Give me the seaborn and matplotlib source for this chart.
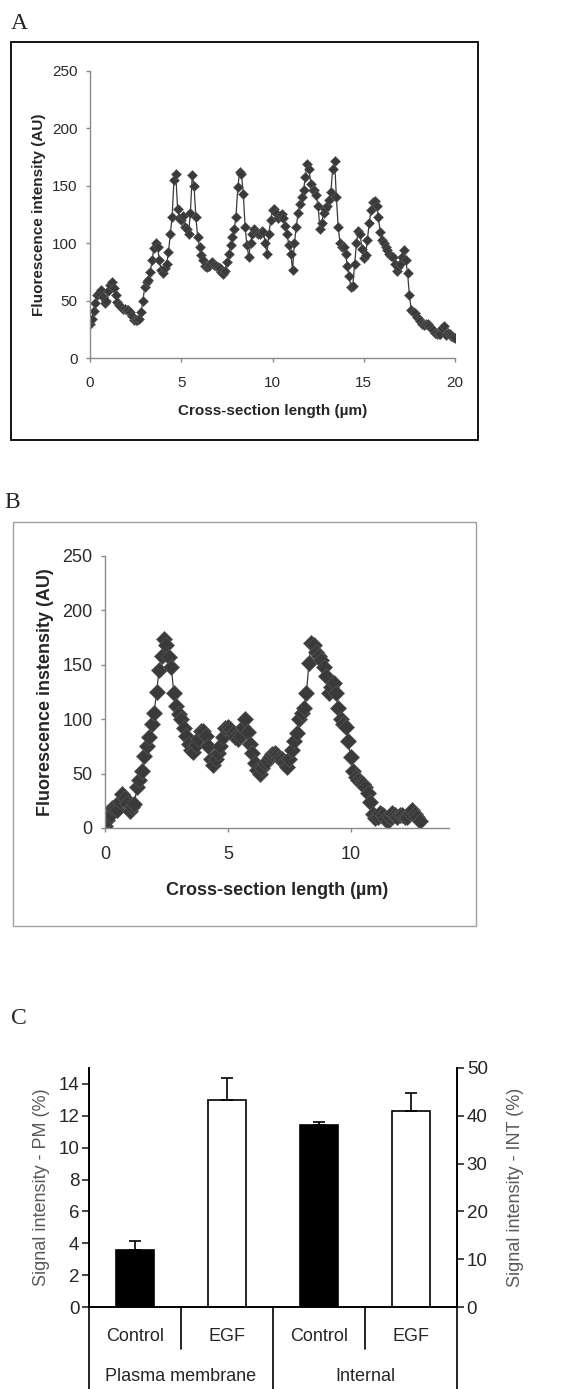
import numpy as np
import pandas as pd
import matplotlib
matplotlib.use("Agg")
import matplotlib.pyplot as plt
from matplotlib.patches import Rectangle
import seaborn as sns

# Panel A: fluorescence profile, one reading every 0.1 um from 0 to 20 um
a_step = 0.1
a_y = [30, 34, 41, 48, 55, 57, 59, 53, 48, 50,
       58, 64, 66, 61, 55, 49, 46, 44, 43, 43,
       42, 42, 40, 37, 33, 33, 33, 34, 40, 50,
       62, 66, 68, 75, 85, 96, 100, 97, 85, 77,
       74, 78, 82, 92, 108, 123, 155, 160, 130, 122,
       120, 124, 114, 112, 108, 126, 159, 150, 123, 105,
       97, 90, 85, 80, 79, 80, 82, 84, 81, 80,
       79, 78, 75, 73, 76, 84, 91, 98, 105, 112,
       123, 149, 162, 160, 143, 114, 98, 88, 100, 108,
       112, 110, 108, 108, 111, 110, 100, 91, 108, 120,
       129, 130, 126, 122, 124, 125, 122, 115, 108, 98,
       91, 77, 100, 114, 126, 134, 140, 146, 158, 169,
       165, 152, 146, 146, 142, 132, 112, 118, 126, 130,
       132, 138, 145, 165, 172, 140, 114, 100, 97, 97,
       91, 80, 71, 62, 63, 82, 100, 111, 108, 95,
       87, 90, 103, 118, 129, 136, 137, 132, 123, 110,
       103, 100, 97, 94, 91, 89, 88, 82, 76, 79,
       82, 88, 94, 85, 74, 55, 42, 40, 39, 36,
       34, 32, 30, 29, 30, 30, 28, 26, 24, 22,
       21, 21, 21, 26, 28, 20, 22, 21, 19, 18,
       17]
a_x = np.round(np.arange(len(a_y)) * a_step, 1)

# Panel B: fluorescence profile, one reading every 0.1 um from 0 to 12.8 um
b_step = 0.1
b_y = [2, 7, 12, 18, 18, 17, 25, 31, 28, 23,
       16, 19, 22, 38, 44, 52, 66, 75, 84, 96,
       106, 125, 145, 158, 174, 168, 157, 148, 124, 112,
       105, 100, 92, 85, 77, 72, 70, 76, 82, 89,
       89, 85, 75, 63, 58, 63, 69, 75, 84, 92,
       93, 91, 87, 84, 82, 85, 93, 100, 88, 77,
       69, 60, 53, 50, 55, 60, 62, 65, 68, 69,
       67, 64, 63, 61, 56, 63, 72, 80, 87, 100,
       106, 110, 124, 152, 170, 168, 162, 158, 154, 148,
       140, 124, 130, 133, 124, 110, 100, 96, 93, 80,
       65, 52, 47, 44, 41, 40, 38, 32, 24, 13,
       9, 10, 14, 12, 8, 6, 10, 14, 12, 10,
       12, 12, 10, 10, 14, 17, 13, 10, 6]
b_x = np.round(np.arange(len(b_y)) * b_step, 1)

# Panel C: signal intensity
groups = ["Plasma membrane", "Internal"]
conditions = ["Control", "EGF"]
pm_mean = [3.55, 13.0]
pm_err = [0.6, 1.35]
int_mean = [38.1, 41.1]
int_err = [0.5, 3.6]

sns.set_style("ticks")
plt.rcParams["font.family"] = ["Liberation Sans", "DejaVu Sans"]

W, H = 581, 1389
fig = plt.figure(figsize=(W / 100, H / 100), dpi=100)


def fbox(x0, y0, x1, y1):
    # pixel box (top-left origin) -> figure fraction rect
    return [x0 / W, 1 - y1 / H, (x1 - x0) / W, (y1 - y0) / H]


def letter(x, y, s):
    fig.text(x / W, 1 - y / H, s, family="Liberation Serif", fontsize=17,
             va="baseline", ha="left")


# frames around A and B
fig.patches.append(Rectangle((11 / W, 1 - 440 / H), 467 / W, 398 / H,
                             transform=fig.transFigure, fill=False,
                             edgecolor="black", linewidth=1.3))
fig.patches.append(Rectangle((13 / W, 1 - 926 / H), 463 / W, 404 / H,
                             transform=fig.transFigure, fill=False,
                             edgecolor="#a0a0a0", linewidth=1.0))

letter(11, 29, "A")
letter(4, 508, "B")
letter(11, 1024, "C")

gray = "#8a8a8a"

# ---- A ----
axa = fig.add_axes(fbox(90, 71, 455, 358))
sns.lineplot(x=a_x, y=a_y, ax=axa, estimator=None, color="#3a3a3a",
             linewidth=0.9, marker="D", markersize=5.4,
             markeredgecolor="#5a5a5a", markeredgewidth=0.4)
axa.set_xlim(0, 20)
axa.set_ylim(0, 250)
axa.set_xticks([0, 5, 10, 15, 20])
axa.set_yticks(range(0, 251, 50))
axa.set_xlabel("Cross-section length (µm)", fontsize=11, fontweight="bold",
               labelpad=10)
axa.set_ylabel("Fluorescence intensity (AU)", fontsize=11, fontweight="bold",
               labelpad=4)
sns.despine(ax=axa)

# ---- B ----
axb = fig.add_axes(fbox(105, 556, 449, 828))
sns.lineplot(x=b_x, y=b_y, ax=axb, estimator=None, color="#3a3a3a",
             linewidth=0.9, marker="D", markersize=7.8,
             markeredgecolor="#555555", markeredgewidth=0.5)
axb.set_xlim(0, 14)
axb.set_ylim(0, 250)
axb.set_xticks([0, 5, 10])
axb.set_yticks(range(0, 251, 50))
axb.set_xlabel("Cross-section length (µm)", fontsize=13, fontweight="bold",
               labelpad=14)
axb.set_ylabel("Fluorescence instensity (AU)", fontsize=13, fontweight="bold",
               labelpad=6)
sns.despine(ax=axb)

for ax, fs in ((axa, 11), (axb, 13)):
    for side in ("left", "bottom"):
        ax.spines[side].set_color(gray)
        ax.spines[side].set_linewidth(1.0)
    ax.tick_params(colors=gray, labelcolor="#2a2a2a", labelsize=fs,
                   length=3, width=1, direction="out")
    ax.tick_params(axis="x", pad=10)
    ax.tick_params(axis="y", pad=6)

# ---- C ----
order = [f"{g} {c}" for g in groups for c in conditions]
pal = {"Control": "black", "EGF": "white"}
df_pm = pd.DataFrame({"key": order[:2], "value": pm_mean, "cond": conditions})
df_int = pd.DataFrame({"key": order[2:], "value": int_mean, "cond": conditions})

axc = fig.add_axes(fbox(89, 1068, 457, 1307))
sns.barplot(data=df_pm, x="key", y="value", hue="cond", order=order,
            palette=pal, edgecolor="black", linewidth=1.2, width=0.41,
            dodge=False, legend=False, errorbar=None, ax=axc)
pm_pos = [order.index(k) for k in df_pm["key"]]
axc.errorbar(pm_pos, pm_mean, yerr=[np.zeros(2), pm_err], fmt="none",
             ecolor="black", elinewidth=1.2, capsize=4.5, capthick=1.2)

axr = axc.twinx()
sns.barplot(data=df_int, x="key", y="value", hue="cond", order=order,
            palette=pal, edgecolor="black", linewidth=1.2, width=0.41,
            dodge=False, legend=False, errorbar=None, ax=axr)
int_pos = [order.index(k) for k in df_int["key"]]
axr.errorbar(int_pos, int_mean, yerr=[np.zeros(2), int_err], fmt="none",
             ecolor="black", elinewidth=1.2, capsize=4.5, capthick=1.2)

axc.set_xlim(-0.5, len(order) - 0.5)
axc.set_ylim(0, 15)
axc.set_yticks(range(0, 15, 2))
axr.set_ylim(0, 50)
axr.set_yticks(range(0, 51, 10))
axc.set_xlabel("")
axr.set_xlabel("")
axc.set_ylabel("Signal intensity - PM (%)", fontsize=13, color="#5a5a5a",
               labelpad=6)
axr.set_ylabel("Signal intensity - INT (%)", fontsize=13, color="#5a5a5a",
               labelpad=14)
for ax in (axc, axr):
    ax.spines["top"].set_visible(False)
    for s in ("left", "right", "bottom"):
        ax.spines[s].set_linewidth(1.2)
        ax.spines[s].set_color("black")
    ax.tick_params(axis="y", labelsize=13.5, length=5, width=1.2,
                   direction="out", pad=2)
    ax.tick_params(axis="x", bottom=False, labelbottom=False)

# category table under the bars
tr = axc.get_xaxis_transform()
bottom = -(H - 1307) / 239
for i, key in enumerate(order):
    axc.text(i, -0.125, key.split(" ")[-1], transform=tr, ha="center",
             va="center", fontsize=13)
for j, g in enumerate(groups):
    axc.text(j * 2 + 0.5, -0.29, g, transform=tr, ha="center", va="center",
             fontsize=13)
for xv, yb in ((-0.5, bottom), (0.5, -0.176), (1.5, bottom),
               (2.5, -0.176), (3.5, bottom)):
    axc.plot([xv, xv], [0, yb], transform=tr, color="black", linewidth=1.2,
             clip_on=False)

fig.savefig("out.png", dpi=100)
